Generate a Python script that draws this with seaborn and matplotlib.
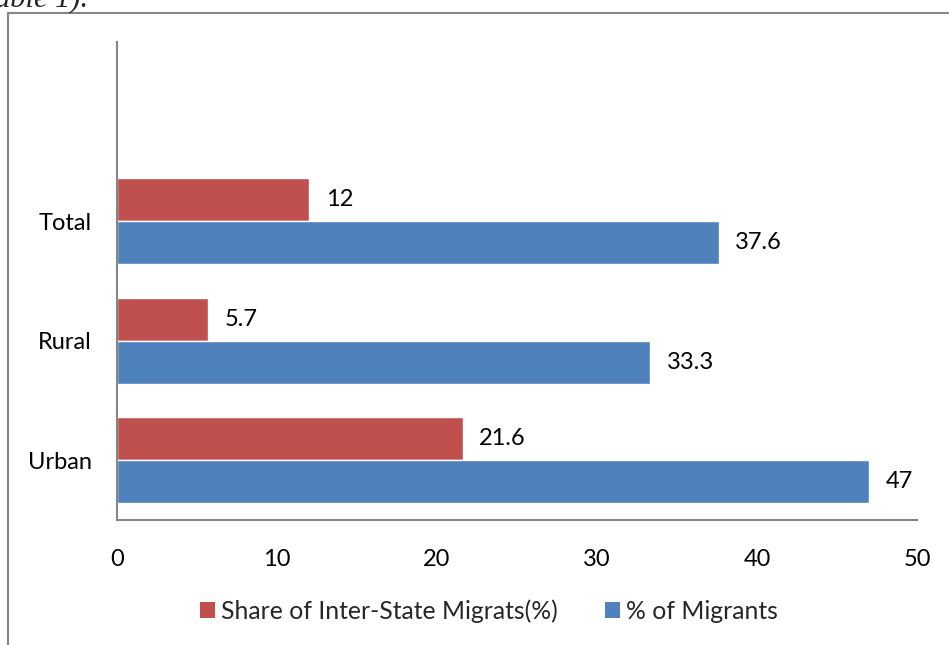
import pandas as pd
import matplotlib
matplotlib.use("Agg")
import matplotlib.pyplot as plt
from matplotlib.patches import Patch, Rectangle
import seaborn as sns

categories = ["Total", "Rural", "Urban"]
series = ["Share of Inter-State Migrats(%)", "% of Migrants"]
share_inter_state = [12, 5.7, 21.6]
pct_migrants = [37.6, 33.3, 47]
xticks = [0, 10, 20, 30, 40, 50]

df = pd.DataFrame({
    "area": categories * 2,
    "series": [series[0]] * 3 + [series[1]] * 3,
    "value": share_inter_state + pct_migrants,
})

sns.set_theme(style="white")
plt.rcParams['font.family'] = ['Lato', 'DejaVu Sans']

colors = {series[0]: "#C0504D", series[1]: "#4F81BD"}
fs = 17

fig = plt.figure(figsize=(9.49, 6.45), dpi=100)
ax = fig.add_axes([117/949, 1 - 520/645, 800/949, 478/645])

sns.barplot(data=df, x="value", y="area", hue="series", order=categories,
            hue_order=series, palette=colors, width=0.72, saturation=1,
            legend=False, ax=ax)

for c in ax.containers:
    ax.bar_label(c, fmt="%g", padding=12, fontsize=fs, color="black")

ax.set_xlim(0, 50)
ax.set_ylim(2.5, -1.5)
ax.set_xticks(xticks)
ax.set_xlabel("")
ax.set_ylabel("")
ax.tick_params(axis="both", length=0, labelsize=fs, colors="black")
ax.tick_params(axis="x", pad=21)
ax.tick_params(axis="y", pad=18)
for s in ["top", "right"]:
    ax.spines[s].set_visible(False)
for s in ["left", "bottom"]:
    ax.spines[s].set_color("#868686")
    ax.spines[s].set_linewidth(1.5)

handles = [Patch(facecolor=colors[s], edgecolor="none", label=s) for s in series]
fig.legend(handles=handles, loc="center", bbox_to_anchor=(489/949, 1 - 611/645),
           ncol=2, frameon=False, fontsize=17.8, handlelength=0.6,
           handleheight=0.6, handletextpad=0.25, columnspacing=1.9)

# outer chart border (clipped by the page)
fig.patches.append(Rectangle((8/949, -0.1), 1.2, 1.1 - 13/645,
                             transform=fig.transFigure, fill=False,
                             edgecolor="#868686", linewidth=1.5))
fig.text(-0.005, 1.0, "able 1).", fontsize=22, style="italic",
         family="Liberation Serif", va="center", ha="left")

fig.savefig("out.png", dpi=100)
